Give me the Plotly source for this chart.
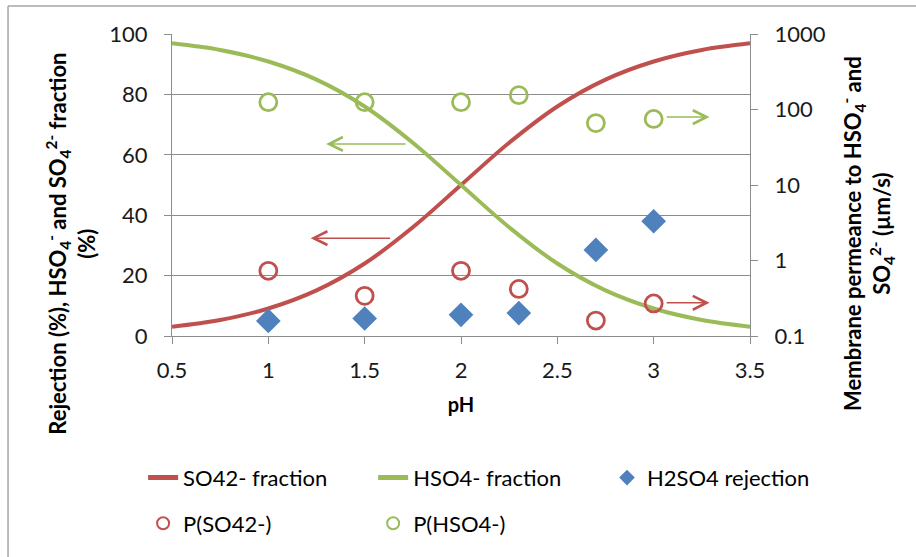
import plotly.graph_objects as go

# Speciation curves (fraction of total sulfate, %) versus pH
ph_curve = [0.5, 0.75, 1.0, 1.25, 1.5, 1.75, 2.0, 2.25, 2.5, 2.75, 3.0, 3.25, 3.5]
so4_fraction = [3.1, 5.3, 9.1, 15.1, 24.0, 36.0, 50.0, 64.0, 76.0, 84.9, 90.9, 94.7, 96.9]
hso4_fraction = [96.9, 94.7, 90.9, 84.9, 76.0, 64.0, 50.0, 36.0, 24.0, 15.1, 9.1, 5.3, 3.1]

# Measured points
ph_meas = [1.0, 1.5, 2.0, 2.3, 2.7, 3.0]
h2so4_rejection = [5.0, 5.8, 7.0, 7.6, 28.5, 38.0]          # %
p_so4 = [0.73, 0.34, 0.73, 0.42, 0.16, 0.27]                 # µm/s
p_hso4 = [125, 125, 125, 155, 66, 75]                        # µm/s

RED = "#C0504D"
GREEN = "#9BBB59"
BLUE = "#4F81BD"
GRID = "#8C8C8C"
FONT = "Lato"

fig = go.Figure()

fig.add_trace(go.Scatter(
    x=ph_curve, y=so4_fraction, mode="lines", name="SO42- fraction",
    line=dict(color=RED, width=4, shape="spline"),
    legend="legend", legendgroup="a"))
fig.add_trace(go.Scatter(
    x=ph_meas, y=p_so4, mode="markers", name="P(SO42-)", yaxis="y2",
    marker=dict(symbol="circle-open", size=17, color=RED, line=dict(width=2.8, color=RED)),
    legend="legend", legendgroup="b"))
fig.add_trace(go.Scatter(
    x=ph_curve, y=hso4_fraction, mode="lines", name="HSO4- fraction",
    line=dict(color=GREEN, width=4, shape="spline"),
    legend="legend2", legendgroup="c"))
fig.add_trace(go.Scatter(
    x=ph_meas, y=p_hso4, mode="markers", name="P(HSO4-)", yaxis="y2",
    marker=dict(symbol="circle-open", size=17, color=GREEN, line=dict(width=2.8, color=GREEN)),
    legend="legend2", legendgroup="d"))
fig.add_trace(go.Scatter(
    x=ph_meas, y=h2so4_rejection, mode="markers", name="H2SO4 rejection",
    marker=dict(symbol="diamond", size=19, color=BLUE),
    legend="legend3", legendgroup="e"))

# Arrows pointing each series to its axis
arrows = [
    dict(x=1.30, y=63.6, ax=1.72, ay=63.6, color=GREEN),
    dict(x=1.22, y=32.4, ax=1.64, ay=32.4, color=RED),
    dict(x=3.29, y=72.5, ax=3.06, ay=72.5, color=GREEN),
    dict(x=3.29, y=11.0, ax=3.06, ay=11.0, color=RED),
]
for a in arrows:
    fig.add_annotation(
        x=a["x"], y=a["y"], ax=a["ax"], ay=a["ay"],
        xref="x", yref="y", axref="x", ayref="y",
        showarrow=True, arrowhead=5, arrowsize=1.8, arrowwidth=1.5,
        arrowcolor=a["color"], text="")

# Axis titles
fig.add_annotation(
    text="Rejection (%), HSO<sub>4</sub><sup>-</sup> and SO<sub>4</sub><sup>2-</sup> fraction<br>(%)",
    xref="paper", yref="paper", x=-0.175, y=0.305, xanchor="center", yanchor="middle",
    textangle=-90, showarrow=False, align="center",
    font=dict(family=FONT, size=22, color="#000000", weight="bold"))
fig.add_annotation(
    text="Membrane permeance to HSO<sub>4</sub><sup>-</sup> and<br>SO<sub>4</sub><sup>2-</sup> (µm/s)",
    xref="paper", yref="paper", x=1.2034, y=0.34, xanchor="center", yanchor="middle",
    textangle=-90, showarrow=False, align="center",
    font=dict(family=FONT, size=22, color="#000000", weight="bold"))

# Chart area border
fig.add_shape(type="line", xref="paper", yref="paper",
              x0=-0.2837, x1=-0.2837, y0=1.0927, y1=-0.8,
              line=dict(color="#A6A6A6", width=1.5))
fig.add_shape(type="line", xref="paper", yref="paper",
              x0=-0.2837, x1=1.35, y0=1.0927, y1=1.0927,
              line=dict(color="#A6A6A6", width=1.5))

tickfont = dict(family=FONT, size=22, color="#1a1a1a")
legfont = dict(family=FONT, size=22, color="#000000")

fig.update_layout(
    width=916, height=557,
    margin=dict(l=172, r=166, t=34, b=221),
    paper_bgcolor="white", plot_bgcolor="white",
    xaxis=dict(
        range=[0.5, 3.5], dtick=0.5, tick0=0.5,
        showgrid=False, zeroline=False,
        showline=True, linecolor=GRID, linewidth=1.2,
        ticks="outside", ticklen=7, tickcolor=GRID,
        tickfont=tickfont, ticklabelstandoff=7,
        title=dict(text="<b>pH</b>", font=dict(family=FONT, size=20, color="#000000"), standoff=16),
    ),
    yaxis=dict(
        range=[0, 100], dtick=20,
        showgrid=True, gridcolor=GRID, gridwidth=1.2, zeroline=False,
        showline=True, linecolor=GRID, linewidth=1.2,
        ticks="outside", ticklen=7, tickcolor=GRID,
        tickfont=tickfont, ticklabelstandoff=12,
    ),
    yaxis2=dict(
        type="log", range=[-1, 3], overlaying="y", side="right",
        tickvals=[0.1, 1, 10, 100, 1000], ticktext=["0.1", "1", "10", "100", "1000"],
        showgrid=False, zeroline=False,
        showline=True, linecolor=GRID, linewidth=1.2,
        ticks="outside", ticklen=7, tickcolor=GRID,
        tickfont=tickfont, ticklabelstandoff=12,
    ),
    legend=dict(x=-0.05, y=-0.40, xanchor="left", yanchor="top",
                font=legfont, tracegroupgap=14, itemsizing="constant",
                bgcolor="rgba(0,0,0,0)"),
    legend2=dict(x=0.348, y=-0.40, xanchor="left", yanchor="top",
                 font=legfont, tracegroupgap=14, itemsizing="constant",
                 bgcolor="rgba(0,0,0,0)"),
    legend3=dict(x=0.7526, y=-0.40, xanchor="left", yanchor="top",
                 font=legfont, tracegroupgap=14, itemsizing="constant",
                 bgcolor="rgba(0,0,0,0)"),
    showlegend=True,
)

fig.write_html("out.html")
